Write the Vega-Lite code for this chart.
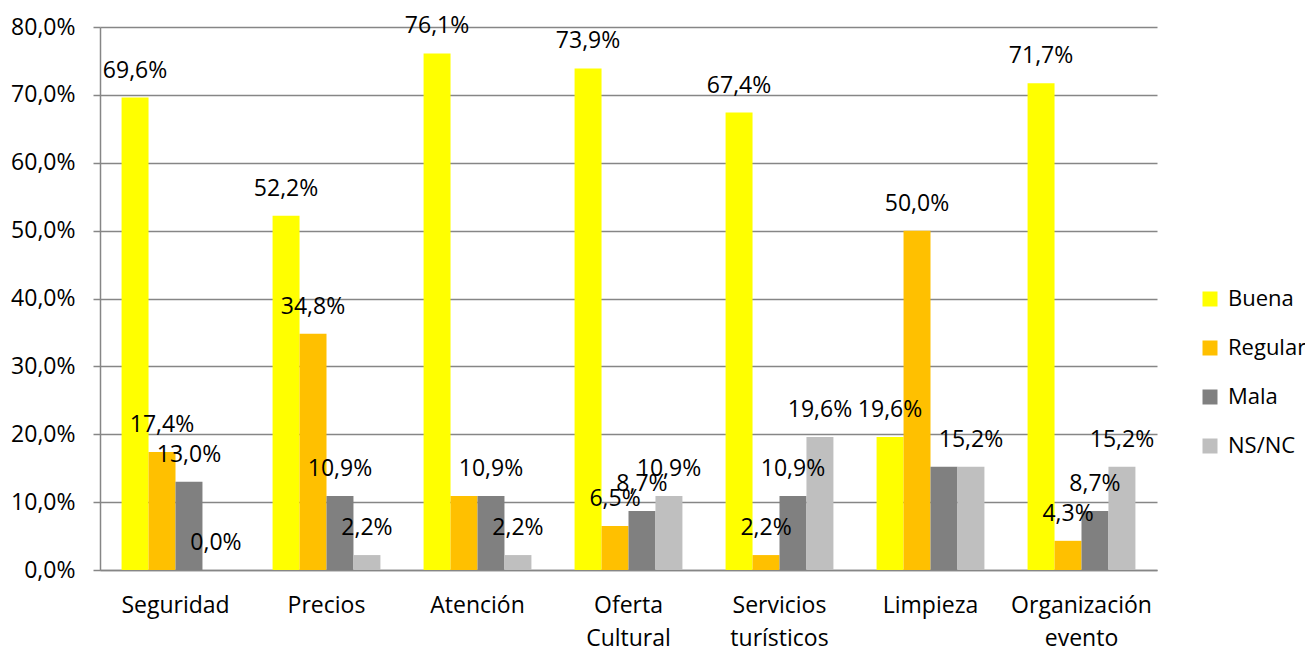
{
  "$schema": "https://vega.github.io/schema/vega-lite/v6.json",
  "width": 1057,
  "height": 543,
  "autosize": "none",
  "padding": {"left": 100, "top": 27, "right": 148, "bottom": 77},
  "background": "white",
  "config": {
    "locale": {"number": {"decimal": ",", "thousands": ".", "grouping": [3], "currency": ["", " €"]}},
    "font": "Open Sans",
    "view": {"stroke": null}
  },
  "data": {
    "values": [
      {"aspecto": "Seguridad", "valoracion": "Buena", "valor": 0.696},
      {"aspecto": "Seguridad", "valoracion": "Regular", "valor": 0.174},
      {"aspecto": "Seguridad", "valoracion": "Mala", "valor": 0.130},
      {"aspecto": "Seguridad", "valoracion": "NS/NC", "valor": 0.0},
      {"aspecto": "Precios", "valoracion": "Buena", "valor": 0.522},
      {"aspecto": "Precios", "valoracion": "Regular", "valor": 0.348},
      {"aspecto": "Precios", "valoracion": "Mala", "valor": 0.109},
      {"aspecto": "Precios", "valoracion": "NS/NC", "valor": 0.022},
      {"aspecto": "Atención", "valoracion": "Buena", "valor": 0.761},
      {"aspecto": "Atención", "valoracion": "Regular", "valor": 0.109},
      {"aspecto": "Atención", "valoracion": "Mala", "valor": 0.109},
      {"aspecto": "Atención", "valoracion": "NS/NC", "valor": 0.022},
      {"aspecto": "Oferta Cultural", "valoracion": "Buena", "valor": 0.739},
      {"aspecto": "Oferta Cultural", "valoracion": "Regular", "valor": 0.065},
      {"aspecto": "Oferta Cultural", "valoracion": "Mala", "valor": 0.087},
      {"aspecto": "Oferta Cultural", "valoracion": "NS/NC", "valor": 0.109},
      {"aspecto": "Servicios turísticos", "valoracion": "Buena", "valor": 0.674},
      {"aspecto": "Servicios turísticos", "valoracion": "Regular", "valor": 0.022},
      {"aspecto": "Servicios turísticos", "valoracion": "Mala", "valor": 0.109},
      {"aspecto": "Servicios turísticos", "valoracion": "NS/NC", "valor": 0.196},
      {"aspecto": "Limpieza", "valoracion": "Buena", "valor": 0.196},
      {"aspecto": "Limpieza", "valoracion": "Regular", "valor": 0.500},
      {"aspecto": "Limpieza", "valoracion": "Mala", "valor": 0.152},
      {"aspecto": "Limpieza", "valoracion": "NS/NC", "valor": 0.152},
      {"aspecto": "Organización evento", "valoracion": "Buena", "valor": 0.717},
      {"aspecto": "Organización evento", "valoracion": "Regular", "valor": 0.043},
      {"aspecto": "Organización evento", "valoracion": "Mala", "valor": 0.087},
      {"aspecto": "Organización evento", "valoracion": "NS/NC", "valor": 0.152}
    ]
  },
  "encoding": {
    "x": {
      "field": "aspecto",
      "type": "nominal",
      "sort": ["Seguridad", "Precios", "Atención", "Oferta Cultural", "Servicios turísticos", "Limpieza", "Organización evento"],
      "scale": {"paddingInner": 0, "paddingOuter": 0},
      "axis": {
        "title": null,
        "labelAngle": 0,
        "labelFontSize": 23,
        "labelColor": "#000000",
        "labelPadding": 24,
        "labelLineHeight": 33,
        "labelExpr": "split(datum.value, ' ')",
        "ticks": false,
        "domainColor": "#868686",
        "domainWidth": 1.5,
        "grid": false
      }
    },
    "xOffset": {
      "field": "valoracion",
      "type": "nominal",
      "sort": ["Buena", "Regular", "Mala", "NS/NC"],
      "scale": {"paddingInner": 0, "paddingOuter": 0.8}
    },
    "y": {
      "field": "valor",
      "type": "quantitative",
      "scale": {"domain": [0, 0.8], "nice": false},
      "axis": {
        "title": null,
        "format": ".1%",
        "values": [0, 0.1, 0.2, 0.3, 0.4, 0.5, 0.6, 0.7, 0.8],
        "labelFontSize": 23,
        "labelColor": "#000000",
        "labelPadding": 18,
        "tickSize": 7,
        "tickColor": "#868686",
        "tickWidth": 1.5,
        "domainColor": "#868686",
        "domainWidth": 1.5,
        "gridColor": "#868686",
        "gridWidth": 1.5
      }
    }
  },
  "layer": [
    {
      "mark": {"type": "bar"},
      "encoding": {
        "color": {
          "field": "valoracion",
          "type": "nominal",
          "sort": ["Buena", "Regular", "Mala", "NS/NC"],
          "scale": {"domain": ["Buena", "Regular", "Mala", "NS/NC"], "range": ["#FFFF00", "#FFC000", "#808080", "#BFBFBF"]},
          "legend": {
            "title": null,
            "orient": "none",
            "legendX": 1099,
            "legendY": 261,
            "symbolType": "square",
            "symbolSize": 225,
            "symbolStrokeWidth": 0,
            "labelFontSize": 22,
            "labelColor": "#000000",
            "labelOffset": 7,
            "rowPadding": 27
          }
        }
      }
    },
    {
      "transform": [
        {"filter": "!(datum.aspecto == 'Atención' && datum.valoracion == 'Regular') && !(datum.aspecto == 'Limpieza' && datum.valoracion == 'Mala')"}
      ],
      "mark": {"type": "text", "dy": -27, "fontSize": 23, "baseline": "middle", "align": "center", "color": "#000000"},
      "encoding": {
        "text": {"field": "valor", "type": "quantitative", "format": ".1%"}
      }
    }
  ]
}
